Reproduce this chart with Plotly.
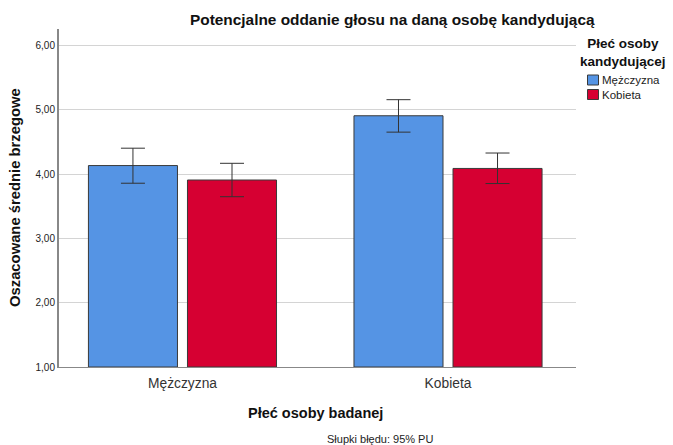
import plotly.graph_objects as go

categories = ["Mężczyzna", "Kobieta"]
series_names = ["Mężczyzna", "Kobieta"]
means_male_cand = [4.135, 4.91]
ci_upper_male_cand = [4.405, 5.16]
ci_lower_male_cand = [3.86, 4.655]
means_female_cand = [3.91, 4.09]
ci_upper_female_cand = [4.17, 4.33]
ci_lower_female_cand = [3.65, 3.855]
y_ticks = [1, 2, 3, 4, 5, 6]

colors = ["#5594E4", "#D60032"]
FONT = "Liberation Sans, Arial, sans-serif"

fig = go.Figure()
for name, means, up, lo, col in [
    (series_names[0], means_male_cand, ci_upper_male_cand, ci_lower_male_cand, colors[0]),
    (series_names[1], means_female_cand, ci_upper_female_cand, ci_lower_female_cand, colors[1]),
]:
    fig.add_trace(go.Bar(
        x=categories, y=[m - 1 for m in means], base=1, name=name,
        marker=dict(color=col, line=dict(color="#3a3a3a", width=1)),
        error_y=dict(type="data", symmetric=False,
                     array=[u - m for u, m in zip(up, means)],
                     arrayminus=[m - l for m, l in zip(means, lo)],
                     color="#333333", thickness=1, width=12),
        showlegend=False, hoverinfo="skip",
    ))

W, H = 673, 445
L, R, T, B = 59, 97, 29, 78
pw, ph = W - L - R, H - T - B

def px(x):
    return (x - L) / pw

def py(y):
    return (H - B - y) / ph

shapes = []
annotations = [
    dict(text="<b>Potencjalne oddanie głosu na daną osobę kandydującą</b>",
         xref="paper", yref="paper", x=px(392.5), y=py(20),
         xanchor="center", yanchor="middle", showarrow=False,
         font=dict(size=15.4, color="#111111")),
    dict(text="<b>Płeć osoby<br>kandydującej</b>",
         xref="paper", yref="paper", x=px(623), y=py(52),
         xanchor="center", yanchor="middle", showarrow=False,
         font=dict(size=13.5, color="#111111")),
    dict(text="<b>Oszacowane średnie brzegowe</b>",
         xref="paper", yref="paper", x=px(15), y=py(198),
         textangle=-90, xanchor="center", yanchor="middle", showarrow=False,
         font=dict(size=14.8, color="#111111")),
    dict(text="<b>Płeć osoby badanej</b>",
         xref="paper", yref="paper", x=px(315.5), y=py(413),
         xanchor="center", yanchor="middle", showarrow=False,
         font=dict(size=14.5, color="#111111")),
    dict(text="Słupki błędu: 95% PU",
         xref="paper", yref="paper", x=px(379.5), y=py(439),
         xanchor="center", yanchor="middle", showarrow=False,
         font=dict(size=11, color="#222222")),
]
# manual legend built from series names / colors
for i, (name, col) in enumerate(zip(series_names, colors)):
    yc = 80 + i * 14.5
    shapes.append(dict(type="rect", xref="paper", yref="paper",
                       x0=px(587.5), x1=px(598.5), y0=py(yc + 5), y1=py(yc - 5),
                       fillcolor=col, line=dict(color="#3a3a3a", width=1)))
    annotations.append(dict(text=name, xref="paper", yref="paper",
                            x=px(600), y=py(yc), xanchor="left", yanchor="middle",
                            showarrow=False, font=dict(size=11.5, color="#222222")))

fig.update_layout(
    width=W, height=H,
    margin=dict(l=L, r=R, t=T, b=B, autoexpand=False),
    plot_bgcolor="white", paper_bgcolor="white",
    barmode="group", bargap=0.254, bargroupgap=0.101,
    separators=", ",
    font=dict(family=FONT, color="#222222"),
    showlegend=False,
    shapes=shapes,
    annotations=annotations,
)
fig.update_xaxes(type="category", range=[-0.465, 1.482], showgrid=False,
                 showline=True, linecolor="#888888", linewidth=1,
                 ticks="", tickfont=dict(size=13.8, color="#333333"), ticklabelstandoff=3)
fig.update_yaxes(range=[1, 6.26], tickvals=y_ticks, tickformat=".2f",
                 showgrid=True, gridcolor="#d4d4d4", gridwidth=1,
                 showline=True, linecolor="#888888", linewidth=2,
                 ticks="", tickfont=dict(size=10, color="#222222"), zeroline=False)

fig.write_html("out.html", config={"displayModeBar": False},
               post_script="document.body.style.margin='0';")
